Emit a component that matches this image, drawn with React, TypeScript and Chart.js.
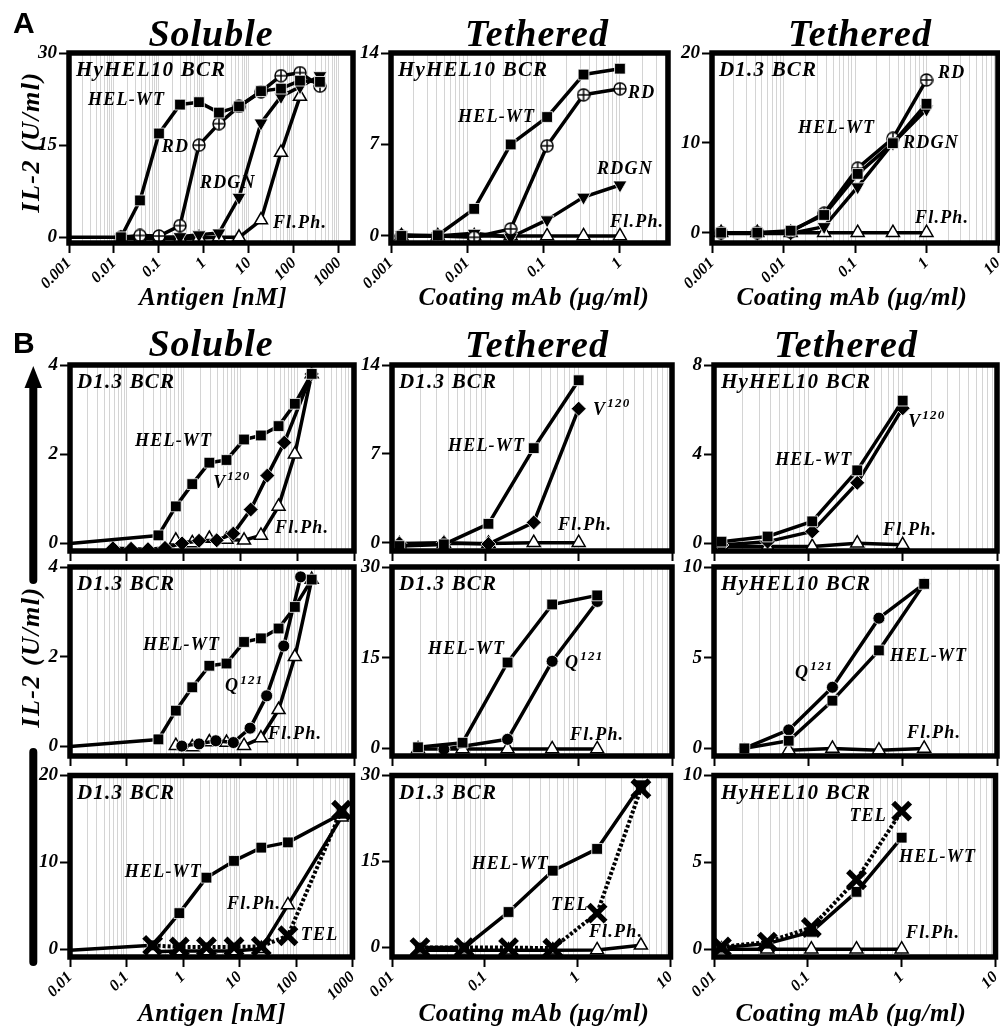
import React, { useEffect, useRef } from "react";
import { Chart, registerables } from "chart.js";

Chart.register(...registerables);

const SERIF = "'Liberation Serif', 'Times New Roman', Times, serif";
const SANS = "'Liberation Sans', Arial, sans-serif";

// ===== A1: soluble antigen, HyHEL10 BCR =====
const a1Conc = [0.001, 0.0143, 0.0378, 0.1, 0.293, 0.774, 2.15, 6.0, 18.5, 51.4, 136, 378];
const a1HelWT = [0, 0, 6.0, 16.9, 21.6, 22.0, 20.3, 21.3, 23.8, 24.2, 25.5, 25.3];
const a1RD = [null, 0, 0.3, 0.2, 1.9, 15.0, 18.5, 21.3, 23.7, 26.3, 26.8, 24.6];
const a1RDGN = [null, 0, 0, 0, 0.1, 0.4, 0.7, 6.5, 18.6, 22.9, 24.5, 26.3];
const a1FlPh = [null, -0.2, -0.2, -0.2, -0.2, -0.1, 0, 0, 2.8, 13.8, 22.9, null];

// ===== A2: tethered, HyHEL10 BCR =====
const a2Conc = [0.00137, 0.0041, 0.0123, 0.037, 0.111, 0.333, 1];
const a2HelWT = [0, 0.05, 2.07, 7.0, 9.1, 12.35, 12.8];
const a2RD = [0, 0, -0.1, 0.54, 6.9, 10.8, 11.26];
const a2RDGN = [0.1, 0, 0.2, -0.1, 1.23, 2.97, 3.9];
const a2FlPh = [0, 0, 0, 0, 0, 0, 0];

// ===== A3: tethered, D1.3 BCR =====
const a3Conc = [0.00134, 0.0043, 0.0126, 0.037, 0.109, 0.339, 1];
const a3HelWT = [0, 0, 0.22, 1.97, 6.54, 9.96, 14.35];
const a3RD = [0, 0, 0.1, 2.16, 7.18, 10.5, 17.0];
const a3RDGN = [-0.1, -0.1, -0.1, 0.67, 5.1, 9.96, 13.75];
const a3FlPh = [0, 0, 0, 0, 0, 0, 0];

// ===== B, soluble column (D1.3 BCR) =====
const bSolConc = [0.01, 0.36, 0.73, 1.42, 2.84, 5.7, 11.6, 23, 47, 91, 180];
const b1aHelWT = [0, 0.18, 0.83, 1.33, 1.81, 1.87, 2.33, 2.42, 2.63, 3.13, 3.8];
const b1aFlPh = [null, null, 0.07, 0.01, 0.11, 0.09, 0.07, 0.18, 0.83, 2.0, 3.8];
const b1aV120Conc = [0.057, 0.119, 0.236, 0.47, 0.94, 1.87, 3.83, 7.5, 15.2, 29.8, 59.3, 180];
const b1aV120 = [-0.11, -0.12, -0.13, -0.1, 0.0, 0.06, 0.07, 0.22, 0.76, 1.52, 2.26, 3.8];

const b2aHelWT = [0, 0.16, 0.8, 1.32, 1.8, 1.85, 2.33, 2.41, 2.63, 3.11, 3.72];
const b2aFlPh = [null, null, 0.02, -0.01, 0.1, 0.09, 0.02, 0.19, 0.82, 2.0, 3.72];
const b2aQ121Conc = [0.93, 1.87, 3.7, 7.5, 14.8, 29, 58, 115];
const b2aQ121 = [0.01, 0.06, 0.13, 0.09, 0.41, 1.13, 2.24, 3.78];

const b3aConc = [0.01, 0.29, 0.86, 2.6, 8.0, 24.3, 72, 640];
const b3aHelWT = [-0.1, 0.45, 4.16, 8.24, 10.17, 11.7, 12.3, 15.6];
const b3aFlPh = [null, -0.3, -0.2, -0.2, -0.2, 0.07, 5.1, 15.2];
const b3aTEL = [null, 0.45, 0.26, 0.26, 0.26, 0.33, 1.56, 16.0];

// ===== B, tethered, D1.3 BCR =====
const b1bConc = [0.012, 0.036, 0.108, 0.33, 1.0];
const b1bHelWT = [-0.26, -0.13, 1.49, 7.45, 12.8];
const b1bV120 = [-0.05, 0, -0.1, 1.6, 10.56];
const b1bFlPh = [-0.1, -0.05, -0.05, 0, 0];

const b2bConc = [0.019, 0.057, 0.173, 0.52, 1.58];
const b2bHelWT = [0.17, 0.93, 14.2, 23.8, 25.3];
const b2bQ121Conc = [0.036, 0.173, 0.52, 1.58];
const b2bQ121 = [-0.17, 1.49, 14.4, 24.3];
const b2bFlPh = [-0.1, -0.1, -0.1, -0.1, -0.1];

const b3bConc = [0.02, 0.06, 0.18, 0.54, 1.62, 4.8];
const b3bHelWT = [0, 0, 6.2, 13.4, 17.2, 28.3];
const b3bTEL = [0, 0, 0, -0.1, 6.0, 27.7];
const b3bFlPh = [-0.45, -0.45, -0.45, -0.45, -0.4, 0.4];

// ===== B, tethered, HyHEL10 BCR =====
const b1cConc = [0.012, 0.037, 0.11, 0.33, 1.0];
const b1cHelWT = [0.07, 0.3, 0.98, 3.27, 6.4];
const b1cV120 = [-0.08, 0.07, 0.53, 2.71, 6.06];
const b1cFlPh = [-0.15, -0.15, -0.15, 0.0, -0.07];

const b2cConc = [0.021, 0.062, 0.18, 0.56, 1.69];
const b2cHelWT = [0, 0.42, 2.63, 5.4, 9.07];
const b2cQ121 = [0, 1.02, 3.37, 7.18, 9.07];
const b2cFlPh = [null, -0.1, 0, -0.1, 0];

const b3cConc = [0.012, 0.037, 0.109, 0.33, 1.0];
const b3cHelWT = [0.09, 0.32, 1.0, 3.3, 6.42];
const b3cTEL = [0.13, 0.41, 1.25, 4.0, 7.95];
const b3cFlPh = [0, 0, 0, 0, 0];

// ===== axis tick values =====
const xTicksA1 = [0.001, 0.01, 0.1, 1, 10, 100, 1000];
const xTicksA2 = [0.001, 0.01, 0.1, 1];
const xTicksA3 = [0.001, 0.01, 0.1, 1, 10];
const xTicksBSol = [0.01, 0.1, 1, 10, 100, 1000];
const xTicksBTeth = [0.01, 0.1, 1, 10];

const PAD_L = 62, PAD_R = 16, PAD_T = 12, PAD_B = 56;

type Kind = "WT" | "RD" | "RDGN" | "FL" | "V" | "Q" | "TEL";
interface Series { kind: Kind; x: number[]; y: (number | null)[]; hideFirst?: boolean }
interface Label { text: string; sup?: string; fx: number; fy: number }
interface PanelCfg {
  frame: number[];
  xMin: number; xMax: number; xTicks: number[]; showX: boolean;
  yMin: number; yMax: number; yTicks: number[];
  bcr: string;
  series: Series[];
  labels: Label[];
}

const panels: PanelCfg[] = [
  {
    frame: [69, 53, 353, 243], xMin: 0.001, xMax: 2050, xTicks: xTicksA1, showX: true,
    yMin: -0.93, yMax: 30, yTicks: [0, 15, 30], bcr: "HyHEL10 BCR",
    series: [
      { kind: "WT", x: a1Conc, y: a1HelWT, hideFirst: true },
      { kind: "RD", x: a1Conc, y: a1RD },
      { kind: "RDGN", x: a1Conc, y: a1RDGN },
      { kind: "FL", x: a1Conc, y: a1FlPh },
    ],
    labels: [
      { text: "HEL-WT", fx: 0.067, fy: 0.247 },
      { text: "RD", fx: 0.327, fy: 0.495 },
      { text: "RDGN", fx: 0.461, fy: 0.684 },
      { text: "Fl.Ph.", fx: 0.718, fy: 0.895 },
    ],
  },
  {
    frame: [391, 53, 668, 243], xMin: 0.001, xMax: 4.26, xTicks: xTicksA2, showX: true,
    yMin: -0.54, yMax: 14, yTicks: [0, 7, 14], bcr: "HyHEL10 BCR",
    series: [
      { kind: "WT", x: a2Conc, y: a2HelWT },
      { kind: "RD", x: a2Conc, y: a2RD },
      { kind: "RDGN", x: a2Conc, y: a2RDGN },
      { kind: "FL", x: a2Conc, y: a2FlPh },
    ],
    labels: [
      { text: "HEL-WT", fx: 0.242, fy: 0.337 },
      { text: "RD", fx: 0.856, fy: 0.211 },
      { text: "RDGN", fx: 0.744, fy: 0.611 },
      { text: "Fl.Ph.", fx: 0.791, fy: 0.889 },
    ],
  },
  {
    frame: [712, 53, 998, 243], xMin: 0.001, xMax: 10, xTicks: xTicksA3, showX: true,
    yMin: -1.15, yMax: 20, yTicks: [0, 10, 20], bcr: "D1.3 BCR",
    series: [
      { kind: "WT", x: a3Conc, y: a3HelWT },
      { kind: "RD", x: a3Conc, y: a3RD },
      { kind: "RDGN", x: a3Conc, y: a3RDGN },
      { kind: "FL", x: a3Conc, y: a3FlPh },
    ],
    labels: [
      { text: "HEL-WT", fx: 0.301, fy: 0.395 },
      { text: "RD", fx: 0.79, fy: 0.105 },
      { text: "RDGN", fx: 0.668, fy: 0.474 },
      { text: "Fl.Ph.", fx: 0.71, fy: 0.868 },
    ],
  },
  {
    frame: [70, 365, 354, 551], xMin: 0.01, xMax: 1000, xTicks: xTicksBSol, showX: false,
    yMin: -0.17, yMax: 4, yTicks: [0, 2, 4], bcr: "D1.3 BCR",
    series: [
      { kind: "WT", x: bSolConc, y: b1aHelWT, hideFirst: true },
      { kind: "V", x: b1aV120Conc, y: b1aV120 },
      { kind: "FL", x: bSolConc, y: b1aFlPh },
    ],
    labels: [
      { text: "HEL-WT", fx: 0.229, fy: 0.412 },
      { text: "V", sup: "120", fx: 0.504, fy: 0.634 },
      { text: "Fl.Ph.", fx: 0.722, fy: 0.876 },
    ],
  },
  {
    frame: [392, 365, 672, 551], xMin: 0.01, xMax: 10, xTicks: xTicksBTeth, showX: false,
    yMin: -0.65, yMax: 14, yTicks: [0, 7, 14], bcr: "D1.3 BCR",
    series: [
      { kind: "WT", x: b1bConc, y: b1bHelWT },
      { kind: "V", x: b1bConc, y: b1bV120 },
      { kind: "FL", x: b1bConc, y: b1bFlPh },
    ],
    labels: [
      { text: "HEL-WT", fx: 0.2, fy: 0.435 },
      { text: "V", sup: "120", fx: 0.718, fy: 0.242 },
      { text: "Fl.Ph.", fx: 0.593, fy: 0.86 },
    ],
  },
  {
    frame: [714, 365, 997, 551], xMin: 0.01, xMax: 10, xTicks: xTicksBTeth, showX: false,
    yMin: -0.35, yMax: 8, yTicks: [0, 4, 8], bcr: "HyHEL10 BCR",
    series: [
      { kind: "WT", x: b1cConc, y: b1cHelWT },
      { kind: "V", x: b1cConc, y: b1cV120 },
      { kind: "FL", x: b1cConc, y: b1cFlPh },
    ],
    labels: [
      { text: "HEL-WT", fx: 0.216, fy: 0.511 },
      { text: "V", sup: "120", fx: 0.686, fy: 0.306 },
      { text: "Fl.Ph.", fx: 0.597, fy: 0.887 },
    ],
  },
  {
    frame: [70, 567, 354, 756], xMin: 0.01, xMax: 1000, xTicks: xTicksBSol, showX: false,
    yMin: -0.21, yMax: 4, yTicks: [0, 2, 4], bcr: "D1.3 BCR",
    series: [
      { kind: "WT", x: bSolConc, y: b2aHelWT, hideFirst: true },
      { kind: "Q", x: b2aQ121Conc, y: b2aQ121 },
      { kind: "FL", x: bSolConc, y: b2aFlPh },
    ],
    labels: [
      { text: "HEL-WT", fx: 0.257, fy: 0.416 },
      { text: "Q", sup: "121", fx: 0.546, fy: 0.633 },
      { text: "Fl.Ph.", fx: 0.697, fy: 0.884 },
    ],
  },
  {
    frame: [392, 567, 672, 756], xMin: 0.01, xMax: 10, xTicks: xTicksBTeth, showX: false,
    yMin: -1.27, yMax: 30, yTicks: [0, 15, 30], bcr: "D1.3 BCR",
    series: [
      { kind: "WT", x: b2bConc, y: b2bHelWT },
      { kind: "Q", x: b2bQ121Conc, y: b2bQ121 },
      { kind: "FL", x: b2bConc, y: b2bFlPh },
    ],
    labels: [
      { text: "HEL-WT", fx: 0.129, fy: 0.434 },
      { text: "Q", sup: "121", fx: 0.618, fy: 0.508 },
      { text: "Fl.Ph.", fx: 0.636, fy: 0.889 },
    ],
  },
  {
    frame: [714, 567, 997, 756], xMin: 0.01, xMax: 10, xTicks: xTicksBTeth, showX: false,
    yMin: -0.42, yMax: 10, yTicks: [0, 5, 10], bcr: "HyHEL10 BCR",
    series: [
      { kind: "WT", x: b2cConc, y: b2cHelWT },
      { kind: "Q", x: b2cConc, y: b2cQ121 },
      { kind: "FL", x: b2cConc, y: b2cFlPh },
    ],
    labels: [
      { text: "Q", sup: "121", fx: 0.286, fy: 0.561 },
      { text: "HEL-WT", fx: 0.622, fy: 0.471 },
      { text: "Fl.Ph.", fx: 0.682, fy: 0.878 },
    ],
  },
  {
    frame: [70, 770, 354, 957], xMin: 0.01, xMax: 1000, xTicks: xTicksBSol, showX: true,
    yMin: -0.89, yMax: 20, yTicks: [0, 10, 20], bcr: "D1.3 BCR",
    series: [
      { kind: "TEL", x: b3aConc, y: b3aTEL },
      { kind: "WT", x: b3aConc, y: b3aHelWT, hideFirst: true },
      { kind: "FL", x: b3aConc, y: b3aFlPh },
    ],
    labels: [
      { text: "HEL-WT", fx: 0.194, fy: 0.535 },
      { text: "Fl.Ph.", fx: 0.556, fy: 0.711 },
      { text: "TEL", fx: 0.817, fy: 0.882 },
    ],
  },
  {
    frame: [392, 770, 672, 957], xMin: 0.01, xMax: 10, xTicks: xTicksBTeth, showX: true,
    yMin: -1.64, yMax: 30, yTicks: [0, 15, 30], bcr: "D1.3 BCR",
    series: [
      { kind: "TEL", x: b3bConc, y: b3bTEL },
      { kind: "WT", x: b3bConc, y: b3bHelWT },
      { kind: "FL", x: b3bConc, y: b3bFlPh },
    ],
    labels: [
      { text: "HEL-WT", fx: 0.286, fy: 0.492 },
      { text: "TEL", fx: 0.571, fy: 0.717 },
      { text: "Fl.Ph.", fx: 0.707, fy: 0.866 },
    ],
  },
  {
    frame: [714, 770, 997, 957], xMin: 0.01, xMax: 10, xTicks: xTicksBTeth, showX: true,
    yMin: -0.45, yMax: 10, yTicks: [0, 5, 10], bcr: "HyHEL10 BCR",
    series: [
      { kind: "TEL", x: b3cConc, y: b3cTEL },
      { kind: "WT", x: b3cConc, y: b3cHelWT },
      { kind: "FL", x: b3cConc, y: b3cFlPh },
    ],
    labels: [
      { text: "TEL", fx: 0.481, fy: 0.225 },
      { text: "HEL-WT", fx: 0.657, fy: 0.449 },
      { text: "Fl.Ph.", fx: 0.682, fy: 0.872 },
    ],
  },
];

const panelTitles = [
  { t: "Soluble", x: 211, y: 46 },
  { t: "Tethered", x: 537, y: 46 },
  { t: "Tethered", x: 860, y: 46 },
  { t: "Soluble", x: 211, y: 356 },
  { t: "Tethered", x: 537, y: 357 },
  { t: "Tethered", x: 846, y: 357 },
];
const xTitles = [
  { t: "Antigen [nM]", x: 213, y: 305 },
  { t: "Coating mAb (\u03bcg/ml)", x: 534, y: 305 },
  { t: "Coating mAb (\u03bcg/ml)", x: 852, y: 305 },
  { t: "Antigen [nM]", x: 212, y: 1021 },
  { t: "Coating mAb (\u03bcg/ml)", x: 534, y: 1021 },
  { t: "Coating mAb (\u03bcg/ml)", x: 851, y: 1021 },
];

let cpCache: HTMLCanvasElement | null = null;
function circlePlus(): HTMLCanvasElement {
  if (cpCache) return cpCache;
  const s = 14;
  const c = document.createElement("canvas");
  c.width = s; c.height = s;
  const g = c.getContext("2d")!;
  const m = s / 2;
  g.beginPath();
  g.arc(m, m, m - 1, 0, Math.PI * 2);
  g.fillStyle = "#fff";
  g.fill();
  g.lineWidth = 1.5;
  g.strokeStyle = "#000";
  g.stroke();
  g.beginPath();
  g.moveTo(m, 1.2); g.lineTo(m, s - 1.2);
  g.moveTo(1.2, m); g.lineTo(s - 1.2, m);
  g.stroke();
  cpCache = c;
  return c;
}

function kindStyle(kind: Kind): any {
  const filled = { bg: "#000", bc: "#fff", bw: 0.8 };
  switch (kind) {
    case "WT": return { ...filled, ps: "rect", r: 7.6, rot: 0 };
    case "RD": return { bg: "#fff", bc: "#000", bw: 1, ps: circlePlus(), r: 6, rot: 0 };
    case "RDGN": return { ...filled, ps: "triangle", r: 8, rot: 180 };
    case "FL": return { bg: "#fff", bc: "#000", bw: 1.5, ps: "triangle", r: 7.5, rot: 0 };
    case "V": return { ...filled, ps: "rectRot", r: 7.5, rot: 0 };
    case "Q": return { ...filled, ps: "circle", r: 6, rot: 0 };
    case "TEL": return { bg: "#000", bc: "#000", bw: 5.5, ps: "crossRot", r: 12, rot: 0, dash: [3, 2] };
  }
}

function logGrid(min: number, max: number): number[] {
  const out: number[] = [];
  for (let d = Math.floor(Math.log10(min)); d <= Math.ceil(Math.log10(max)); d++) {
    for (let k = 1; k <= 9; k++) {
      const v = k * Math.pow(10, d);
      if (v >= min * 0.9999 && v <= max * 1.0001) out.push(v);
    }
  }
  return out;
}
const isDecade = (v: number) => Math.abs(Math.log10(v) - Math.round(Math.log10(v))) < 1e-7;

function Panel({ cfg }: { cfg: PanelCfg }) {
  const ref = useRef<HTMLCanvasElement>(null);
  const [l, t, r, b] = cfg.frame;
  const W = r - l + PAD_L + PAD_R;
  const H = b - t + PAD_T + PAD_B;

  useEffect(() => {
    const tickFont = { family: SERIF, size: 16, weight: "bold" as const, style: "italic" as const };
    const yFont = { family: SERIF, size: 19, weight: "bold" as const, style: "italic" as const };
    const gridVals = logGrid(cfg.xMin, cfg.xMax);

    const datasets = cfg.series.map((s) => {
      const st = kindStyle(s.kind);
      const data = s.x
        .map((x, i) => ({ x, y: s.y[i] }))
        .filter((p) => p.y !== null && p.y !== undefined);
      return {
        data,
        borderColor: "#000",
        borderWidth: s.kind === "TEL" ? 4 : 3.5,
        borderDash: st.dash || [],
        borderJoinStyle: "round" as const,
        pointStyle: st.ps,
        pointRadius: (c: any) => (s.hideFirst && c.dataIndex === 0 ? 0 : st.r),
        pointHoverRadius: st.r,
        pointRotation: st.rot,
        pointBackgroundColor: st.bg,
        pointBorderColor: st.bc,
        pointBorderWidth: st.bw,
        tension: 0,
        fill: false,
      };
    });

    const deco = {
      id: "deco",
      afterDatasetsDraw(chart: any) {
        const { ctx, chartArea: a } = chart;
        ctx.save();
        ctx.strokeStyle = "#000";
        ctx.lineWidth = 5.5;
        ctx.strokeRect(a.left, a.top, a.right - a.left, a.bottom - a.top);
        ctx.fillStyle = "#000";
        ctx.textBaseline = "middle";
        ctx.textAlign = "left";
        ctx.letterSpacing = "1.2px";
        ctx.font = `italic bold 21px ${SERIF}`;
        ctx.fillText(cfg.bcr, a.left + 7, a.top + 18);
        for (const lb of cfg.labels) {
          const x = a.left + lb.fx * (a.right - a.left);
          const y = a.top + lb.fy * (a.bottom - a.top);
          ctx.font = `italic bold 18px ${SERIF}`;
          ctx.fillText(lb.text, x, y);
          if (lb.sup) {
            const w = ctx.measureText(lb.text).width;
            ctx.font = `italic bold 13px ${SERIF}`;
            ctx.fillText(lb.sup, x + w + 1, y - 6);
          }
        }
        ctx.restore();
      },
    };

    const chart = new Chart(ref.current!, {
      type: "line",
      data: { datasets: datasets as any },
      options: {
        responsive: false,
        maintainAspectRatio: false,
        animation: false,
        events: [],
        layout: { padding: { top: PAD_T, right: PAD_R, left: 0, bottom: 0 } },
        plugins: { legend: { display: false }, tooltip: { enabled: false } },
        scales: {
          x: {
            type: "logarithmic",
            min: cfg.xMin,
            max: cfg.xMax,
            bounds: "data",
            position: "bottom",
            border: { display: false },
            grid: {
              color: "rgba(0,0,0,0.17)",
              lineWidth: 1,
              drawTicks: true,
              tickLength: 10,
              tickWidth: 2,
              tickColor: (c: any) => (c.tick && isDecade(c.tick.value) ? "#000" : "rgba(0,0,0,0)"),
            },
            ticks: {
              display: cfg.showX,
              autoSkip: false,
              minRotation: 45,
              maxRotation: 45,
              padding: 1,
              color: "#000",
              font: tickFont,
              callback: (v: any) => {
                const hit = cfg.xTicks.find((tk) => Math.abs(Math.log10(tk) - Math.log10(Number(v))) < 1e-6);
                return hit !== undefined ? String(hit) : "";
              },
            },
            afterBuildTicks: (s: any) => {
              s.ticks = gridVals.map((v) => ({ value: v }));
            },
            afterFit: (s: any) => {
              s.height = PAD_B;
              s.paddingLeft = 0; s.paddingRight = 0; s.paddingTop = 0; s.paddingBottom = 0;
            },
          } as any,
          y: {
            type: "linear",
            min: cfg.yMin,
            max: cfg.yMax,
            bounds: "data",
            border: { display: false },
            grid: { drawOnChartArea: false, drawTicks: true, tickLength: 10, tickWidth: 2, tickColor: "#000" },
            ticks: { color: "#000", padding: 2, font: yFont, callback: (v: any) => String(v) },
            afterBuildTicks: (s: any) => {
              s.ticks = cfg.yTicks.map((v) => ({ value: v }));
            },
            afterFit: (s: any) => {
              s.width = PAD_L;
              s.paddingTop = 0; s.paddingBottom = 0; s.paddingLeft = 0; s.paddingRight = 0;
            },
          } as any,
        },
      },
      plugins: [deco],
    });
    return () => chart.destroy();
  }, [cfg]);

  return (
    <canvas
      ref={ref}
      width={W}
      height={H}
      style={{ position: "absolute", left: l - PAD_L, top: t - PAD_T, width: W, height: H }}
    />
  );
}

export default function App() {
  return (
    <div style={{ position: "absolute", left: 0, top: 0, width: 1000, height: 1028, background: "#fff", overflow: "hidden" }}>
      {panels.map((p, i) => (
        <Panel key={i} cfg={p} />
      ))}
      <svg width={1000} height={1028} style={{ position: "absolute", left: 0, top: 0, pointerEvents: "none" }}>
        <text x={13} y={33} fontFamily={SANS} fontWeight="bold" fontSize={30}>A</text>
        <text x={13} y={353} fontFamily={SANS} fontWeight="bold" fontSize={30}>B</text>
        {panelTitles.map((p, i) => (
          <text key={"t" + i} x={p.x} y={p.y} textAnchor="middle" fontFamily={SERIF} fontWeight="bold"
            fontStyle="italic" fontSize={38} style={{ letterSpacing: "1px" }}>{p.t}</text>
        ))}
        {xTitles.map((p, i) => (
          <text key={"x" + i} x={p.x} y={p.y} textAnchor="middle" fontFamily={SERIF} fontWeight="bold"
            fontStyle="italic" fontSize={25} style={{ letterSpacing: "0.6px" }}>{p.t}</text>
        ))}
        <text transform="translate(39,142) rotate(-90)" textAnchor="middle" fontFamily={SERIF} fontWeight="bold"
          fontStyle="italic" fontSize={26} style={{ letterSpacing: "1.5px" }}>IL-2 (U/ml)</text>
        <text transform="translate(39,657) rotate(-90)" textAnchor="middle" fontFamily={SERIF} fontWeight="bold"
          fontStyle="italic" fontSize={26} style={{ letterSpacing: "1.5px" }}>IL-2 (U/ml)</text>
        <polygon points="24.5,388 42,388 33.3,366" fill="#000" />
        <line x1={33.3} y1={386} x2={33.3} y2={580} stroke="#000" strokeWidth={8} strokeLinecap="round" />
        <line x1={33.3} y1={752} x2={33.3} y2={962} stroke="#000" strokeWidth={8} strokeLinecap="round" />
      </svg>
    </div>
  );
}
